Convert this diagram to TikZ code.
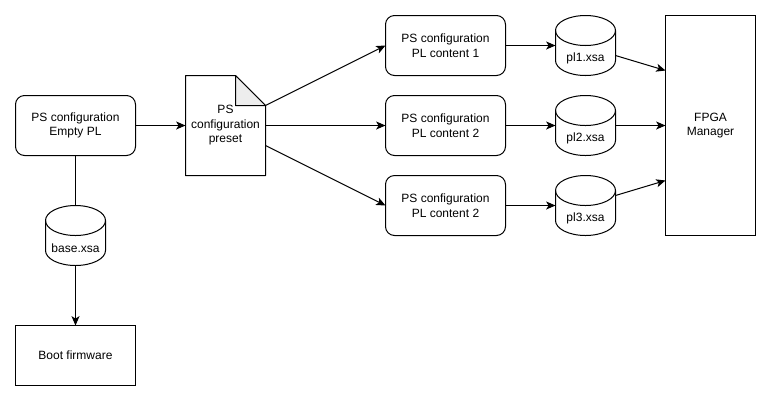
\documentclass[tikz,border=0pt]{standalone}
\usepackage{fontspec}
\setmainfont{Liberation Sans}
\usepackage{xcolor}
\usetikzlibrary{arrows.meta}
\definecolor{foldgrey}{HTML}{EDEDED}
\tikzset{
  base/.style={draw=black,line width=0.75pt,outer sep=0pt,inner sep=0pt,align=center,
    font=\fontsize{9}{10.9}\selectfont},
  roundbox/.style={base,rounded corners=6.75pt,minimum width=90pt,minimum height=45pt},
  plainbox/.style={base,minimum width=90pt,minimum height=45pt},
  xsabody/.style={base,draw=none,minimum width=45pt,minimum height=45pt},
  xsatext/.style={base,draw=none},
  link/.style={line width=0.75pt,-{Stealth[length=7pt,width=6pt,inset=1.8pt]}},
  plainlink/.style={line width=0.75pt},
}
\newcommand{\xsafile}[3]{
  \node[xsabody] (#1) at #2 {};
  \draw[line width=0.75pt,shift={#2}] (-30,-15) arc[start angle=180,end angle=0,x radius=22.5pt,y radius=11.25pt]
    -- (30,15) arc[start angle=0,end angle=-180,x radius=22.5pt,y radius=11.25pt] -- cycle;
  \draw[line width=0.75pt,shift={#2}] (-30,-15) arc[start angle=180,end angle=360,x radius=22.5pt,y radius=11.25pt];
  \node[xsatext] (#1text) at ([yshift=-9.6pt]#1.center) {#3};
}
\begin{document}
\begin{tikzpicture}[x=0.75pt,y=-0.75pt]
  \useasboundingbox (0,0) rectangle (771,401);
  % left column
  \node[roundbox] (empty) at (75.5,125.5) {PS configuration\\Empty PL};
  \xsafile{basexsa}{(75.5,235.5)}{base.xsa}
  \node[plainbox] (boot) at (75.5,355.5) {Boot firmware};
  % preset page
  \draw[line width=0.75pt,line join=round] (185.5,75.5) -- (235.5,75.5) -- (265.5,105.5) -- (265.5,175.5) -- (185.5,175.5) -- cycle;
  \draw[line width=0.75pt,line join=round,fill=foldgrey] (235.5,75.5) -- (265.5,105.5) -- (235.5,105.5) -- cycle;
  \node[base,draw=none,minimum width=60pt,minimum height=75pt] (preset) at (225.5,125.5) {PS\\configuration\\preset};
  \coordinate (presetup) at (265.5,105.5);
  \coordinate (presetdown) at (265.5,145.5);
  % content boxes
  \node[roundbox] (contenta) at (445.5,45.5) {PS configuration\\PL content 1};
  \node[roundbox] (contentb) at (445.5,125.5) {PS configuration\\PL content 2};
  \node[roundbox] (contentc) at (445.5,205.5) {PS configuration\\PL content 2};
  % xsa files
  \xsafile{pla}{(585.5,45.5)}{pl1.xsa}
  \xsafile{plb}{(585.5,125.5)}{pl2.xsa}
  \xsafile{plc}{(585.5,205.5)}{pl3.xsa}
  % manager
  \node[plainbox,minimum width=67.5pt,minimum height=165pt] (fpga) at (710.5,125.5) {FPGA\\Manager};
  \coordinate (plaout) at (615.5,55.5);
  \coordinate (plcout) at (615.5,195.5);
  \coordinate (fpgaa) at (665.5,70.5);
  \coordinate (fpgac) at (665.5,180.5);
  % connectors
  \draw[plainlink] (empty.south) -- (basexsa.north);
  \draw[link] (basexsa.south) -- (boot.north);
  \draw[link] (empty.east) -- (preset.west);
  \draw[link] (presetup) -- (contenta.west);
  \draw[link] (preset.east) -- (contentb.west);
  \draw[link] (presetdown) -- (contentc.west);
  \draw[link] (contenta.east) -- (pla.west);
  \draw[link] (contentb.east) -- (plb.west);
  \draw[link] (contentc.east) -- (plc.west);
  \draw[link] (plaout) -- (fpgaa);
  \draw[link] (plb.east) -- (fpga.west);
  \draw[link] (plcout) -- (fpgac);
\end{tikzpicture}
\end{document}
